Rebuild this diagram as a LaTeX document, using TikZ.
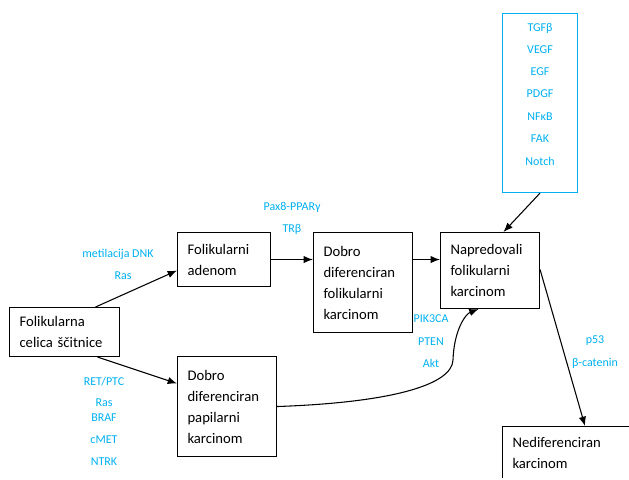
\documentclass[tikz,border=0pt]{standalone}
\usepackage{fontspec}
\setmainfont{Carlito}
\usetikzlibrary{arrows.meta}
\usetikzlibrary{calc}
\definecolor{light-blue}{RGB}{0,176,240}
\tikzset{
every picture/.style={line width=0.8pt, >={Latex[length=7pt,width=5.5pt]}},
%%%%%%%%%%  Node styles
stage/.style={draw, rectangle, anchor=north west, align=left,
              inner xsep=7.5pt, inner ysep=0pt,
              font=\fontsize{11}{15.75}\selectfont},
factor/.style={text=light-blue, inner sep=0pt,
               font=\fontsize{9}{11}\selectfont},
factorbox/.style={draw=light-blue, rectangle, anchor=north west, inner sep=0pt},
%%%%%%% connectors
link/.style={->}
}

\begin{document}
\begin{tikzpicture}[x=0.75pt,y=-0.75pt]
\path[use as bounding box] (0,0) rectangle (629,479);
\clip (0,0) rectangle (629,477);
%% stages
\node[stage, text width=67.5pt, minimum height=36.75pt] (celica) at (9,307)
	{Folikularna\\celica ščitnice};
\node[stage, text width=54.75pt, minimum height=40.5pt] (adenom) at (177,232)
	{Folikularni\\adenom};
\node[stage, text width=59.25pt, minimum height=75pt] (papilarni) at (177,356)
	{Dobro\\diferenciran\\papilarni\\karcinom};
\node[stage, text width=59.25pt, minimum height=75pt] (folikularni) at (313,232)
	{Dobro\\diferenciran\\folikularni\\karcinom};
\node[stage, text width=59.25pt, minimum height=57pt] (napredovali) at (440,232)
	{Napredovali\\folikularni\\karcinom};
\node[stage, text width=82.5pt, minimum height=39pt] (nedif) at (502,426)
	{Nediferenciran\\karcinom};
%% growth factors box
\node[factorbox, minimum width=56.25pt, minimum height=134.25pt] (signali) at (502,13) {};
\node[factor] (tgf) at (540,28) {TGFβ};
\node[factor] (vegf) at (540,50) {VEGF};
\node[factor] (egf) at (540,72) {EGF};
\node[factor] (pdgf) at (540,94) {PDGF};
\node[factor] (nfkb) at (540,117) {NFκB};
\node[factor] (fak) at (540,139) {FAK};
\node[factor] (notch) at (540,161) {Notch};
%% mutation labels
\node[factor] (metil) at (118,254) {metilacija DNK};
\node[factor] (rasa) at (123,276) {Ras};
\node[factor] (ret) at (104,382) {RET/PTC};
\node[factor] (rasb) at (104,403) {Ras};
\node[factor] (braf) at (104,418) {BRAF};
\node[factor] (cmet) at (104,440) {cMET};
\node[factor] (ntrk) at (104,462) {NTRK};
\node[factor] (pax) at (292,207) {Pax8-PPARγ};
\node[factor] (trb) at (292,229) {TRβ};
\node[factor] (pik) at (431,319) {PIK3CA};
\node[factor] (pten) at (431,342) {PTEN};
\node[factor] (akt) at (431,363) {Akt};
\node[factor] (p53) at (595,341) {p53};
\node[factor] (bcat) at (595,363) {β-catenin};
%% arrows between stages
\draw[link] ($(celica.north)+(31,0)$) -- ($(adenom.west)+(0,11)$);
\draw[link] ($(celica.south)+(33,0)$) -- ($(papilarni.west)+(0,-23)$);
\draw[link] (adenom.east) -- (adenom.east -| folikularni.west);
\draw[link] (folikularni.east |- adenom.east) -- (napredovali.west |- adenom.east);
\coordinate (bend) at (453,360);
\draw[link] (papilarni.east)
	.. controls +(114,-4) and +(-1,25) .. (bend)
	.. controls +(1,-30) and +(-13,5) .. ($(napredovali.south)+(-11.5,0)$);
\draw[link] (signali.south) -- ($(napredovali.north)+(13.5,0)$);
\draw[link] ($(napredovali.east)+(0,-1)$) -- ($(nedif.north west)+(83,0)$);
\end{tikzpicture}
\end{document}
